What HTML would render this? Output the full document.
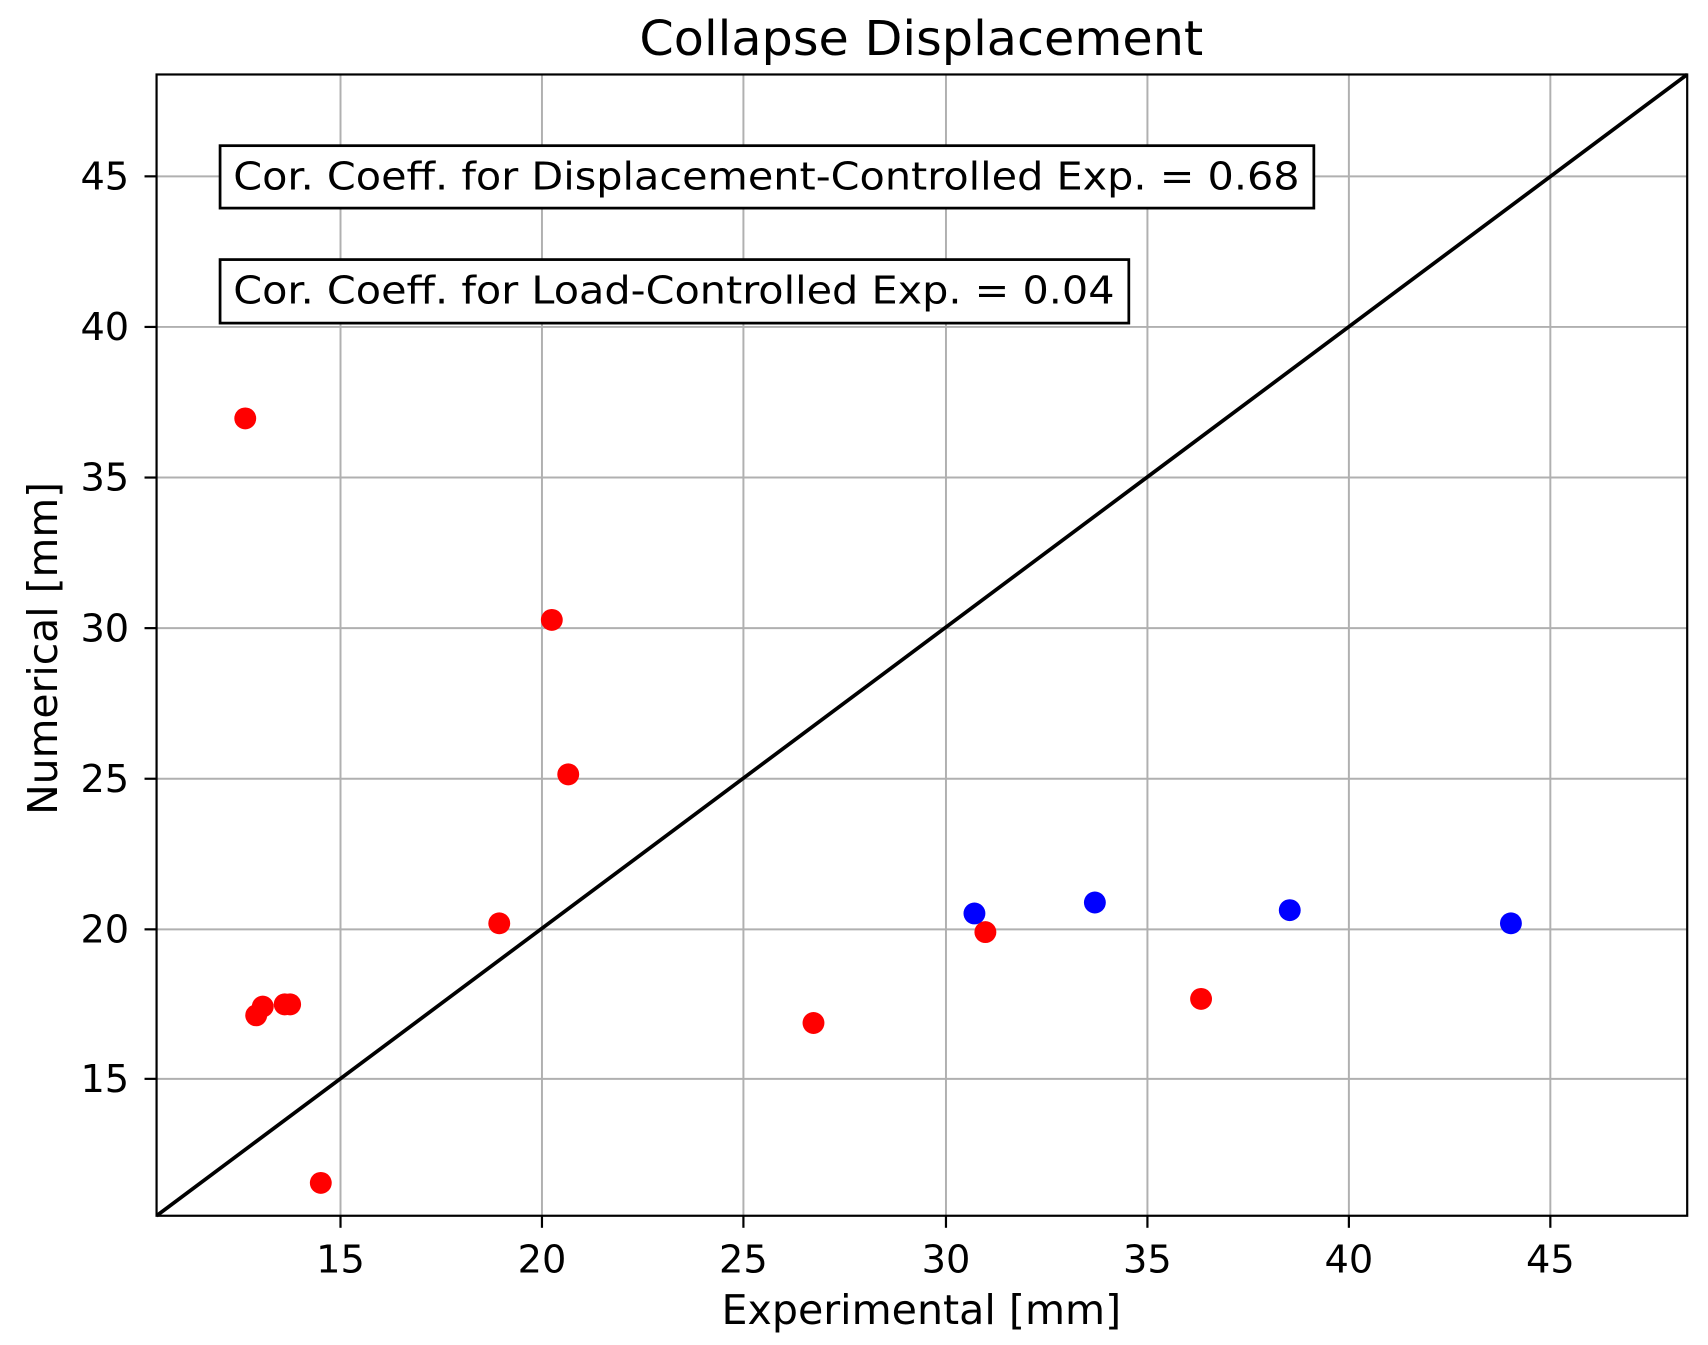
<!DOCTYPE html>
<html><head><style>html,body{margin:0;padding:0;background:#fff;}svg{display:block;}</style></head>
<body>
<svg width="1708" height="1345" viewBox="0 0 1560 1228" preserveAspectRatio="none" xmlns="http://www.w3.org/2000/svg" font-family="DejaVu Sans, Liberation Sans, sans-serif">
<rect width="1560" height="1228" fill="#fff"/>
<g stroke="#b0b0b0" stroke-width="1.8">
<line x1="311" y1="68" x2="311" y2="1110"/><line x1="495" y1="68" x2="495" y2="1110"/><line x1="679" y1="68" x2="679" y2="1110"/><line x1="864" y1="68" x2="864" y2="1110"/><line x1="1048" y1="68" x2="1048" y2="1110"/><line x1="1232" y1="68" x2="1232" y2="1110"/><line x1="1416" y1="68" x2="1416" y2="1110"/>
<line x1="143" y1="161" x2="1541" y2="161"/><line x1="143" y1="298.5" x2="1541" y2="298.5"/><line x1="143" y1="436" x2="1541" y2="436"/><line x1="143" y1="573.5" x2="1541" y2="573.5"/><line x1="143" y1="711" x2="1541" y2="711"/><line x1="143" y1="848.5" x2="1541" y2="848.5"/><line x1="143" y1="985" x2="1541" y2="985"/>
</g>
<line x1="143" y1="1110" x2="1541" y2="68" stroke="#000" stroke-width="3.4"/>
<g fill="#ff0000">
<circle cx="224" cy="382" r="10"/><circle cx="504" cy="566" r="10"/><circle cx="519" cy="707" r="10"/><circle cx="456" cy="843" r="10"/><circle cx="234" cy="927" r="10"/><circle cx="240" cy="919" r="10"/><circle cx="260" cy="917" r="10"/><circle cx="265" cy="917" r="10"/><circle cx="293" cy="1080" r="10"/><circle cx="743" cy="934" r="10"/><circle cx="900" cy="851" r="10"/><circle cx="1097" cy="912" r="10"/>
</g>
<g fill="#0000ff">
<circle cx="890" cy="834" r="10"/><circle cx="1000" cy="824" r="10"/><circle cx="1178" cy="831" r="10"/><circle cx="1380" cy="843" r="10"/>
</g>
<rect x="143" y="68" width="1398" height="1042" fill="none" stroke="#000" stroke-width="2"/>
<g stroke="#000" stroke-width="2">
<line x1="311" y1="1110" x2="311" y2="1121"/><line x1="495" y1="1110" x2="495" y2="1121"/><line x1="679" y1="1110" x2="679" y2="1121"/><line x1="864" y1="1110" x2="864" y2="1121"/><line x1="1048" y1="1110" x2="1048" y2="1121"/><line x1="1232" y1="1110" x2="1232" y2="1121"/><line x1="1416" y1="1110" x2="1416" y2="1121"/>
<line x1="132" y1="161" x2="143" y2="161"/><line x1="132" y1="298.5" x2="143" y2="298.5"/><line x1="132" y1="436" x2="143" y2="436"/><line x1="132" y1="573.5" x2="143" y2="573.5"/><line x1="132" y1="711" x2="143" y2="711"/><line x1="132" y1="848.5" x2="143" y2="848.5"/><line x1="132" y1="985" x2="143" y2="985"/>
</g>
<g font-size="35" fill="#000" text-anchor="middle">
<text x="311" y="1162">15</text><text x="495" y="1162">20</text><text x="679" y="1162">25</text><text x="864" y="1162">30</text><text x="1048" y="1162">35</text><text x="1232" y="1162">40</text><text x="1416" y="1162">45</text>
</g>
<g font-size="35" fill="#000" text-anchor="end">
<text x="118" y="173">45</text><text x="118" y="310.5">40</text><text x="118" y="448">35</text><text x="118" y="585.5">30</text><text x="118" y="723">25</text><text x="118" y="860.5">20</text><text x="118" y="997">15</text>
</g>
<text x="659" y="1209" font-size="37" textLength="365" lengthAdjust="spacingAndGlyphs">Experimental [mm]</text>
<text transform="translate(52,744) rotate(-90)" font-size="37" textLength="304" lengthAdjust="spacingAndGlyphs">Numerical [mm]</text>
<text x="584" y="50" font-size="44" textLength="515" lengthAdjust="spacingAndGlyphs">Collapse Displacement</text>
<rect x="201" y="133" width="999" height="57" fill="#fff" stroke="#000" stroke-width="2.5"/>
<text x="213" y="173" font-size="35" textLength="974" lengthAdjust="spacingAndGlyphs">Cor. Coeff. for Displacement-Controlled Exp. = 0.68</text>
<rect x="201" y="237" width="830" height="58" fill="#fff" stroke="#000" stroke-width="2.5"/>
<text x="213" y="277" font-size="35" textLength="805" lengthAdjust="spacingAndGlyphs">Cor. Coeff. for Load-Controlled Exp. = 0.04</text>
</svg>
</body></html>
